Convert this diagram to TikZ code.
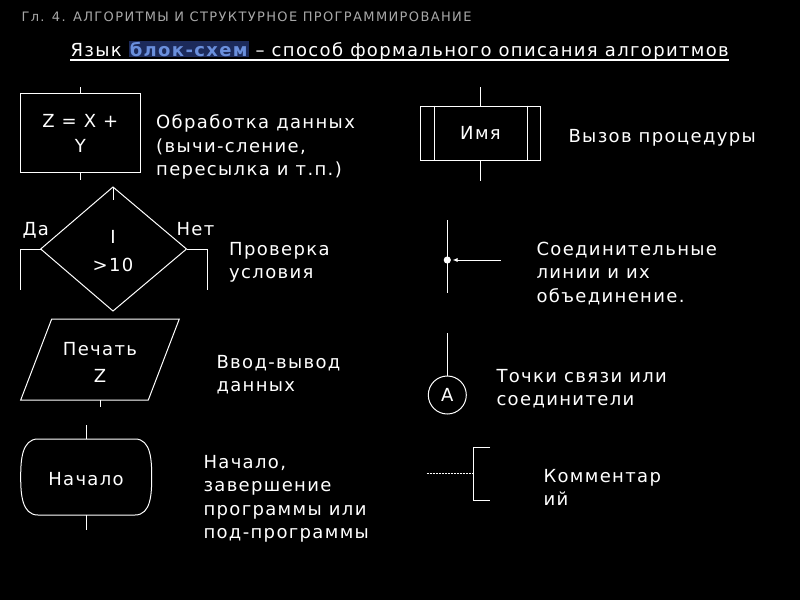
\documentclass[tikz,border=0pt]{standalone}
\usepackage{fontspec}
\setmainfont[LetterSpace=7.5]{DejaVu Sans}
\newfontfamily\hdrfont[LetterSpace=10.5]{DejaVu Sans}
\usetikzlibrary{arrows.meta}
\definecolor{hdrgray}{HTML}{A8A8A8}
\definecolor{titleblue}{HTML}{6A8FDC}
\definecolor{titlebg}{HTML}{1C2A5A}
\begin{document}
\begin{tikzpicture}[x=1pt,y=-1pt, line width=1pt, white,
  lbl/.style={anchor=north west, inner sep=0, align=left, font=\fontsize{18}{23.5}\selectfont, text=white},
  ctr/.style={inner sep=0, align=center, font=\fontsize{18}{25}\selectfont, text=white},
  shp/.style={draw=white, line width=1pt}]
\fill[black] (0,0) rectangle (800,600);
\useasboundingbox (0,0) rectangle (800,600);

% header and title
\node[anchor=west, inner sep=0, text=hdrgray, font=\hdrfont\fontsize{13}{14}\selectfont] (hdr) at (21,17) {Гл. 4. АЛГОРИТМЫ И СТРУКТУРНОЕ ПРОГРАММИРОВАНИЕ};
\node[anchor=base west, inner sep=0, font=\fontsize{18}{22}\selectfont] (title) at (70,56) {Язык {\fboxsep=1pt\colorbox{titlebg}{\color{titleblue}\bfseries блок-схем}} – способ формального описания алгоритмов};
\draw[line width=1.2pt] ([yshift=-4pt]title.base west) -- ([yshift=-4pt]title.base east);

% process
\node[shp, ctr, minimum width=119.6pt, minimum height=79.4pt] (proc) at (80.3,133) {Z = X +\\Y};
\coordinate (procin) at (80.3,87);
\coordinate (procout) at (80.3,180);
\draw (procin) -- (proc.north);
\draw (proc.south) -- (procout);
\node[lbl] (proclbl) at (155.7,114.5) {Обработка данных\\(вычи-сление,\\пересылка и т.п.)};

% decision
\coordinate (dT) at (113,187);
\coordinate (dR) at (186.5,249);
\coordinate (dB) at (113,311);
\coordinate (dL) at (40.7,249);
\coordinate (dTin) at (113,200);
\coordinate (yesEnd) at (20.7,290);
\coordinate (noEnd) at (207,290);
\draw (dT) -- (dR) -- (dB) -- (dL) -- cycle;
\draw (dT) -- (dTin);
\draw (dL) -| (yesEnd);
\draw (dR) -| (noEnd);
\node[ctr, font=\fontsize{18}{28}\selectfont] (cond) at (113,251) {I\\>10};
\node[lbl] (yes) at (22,221.5) {Да};
\node[lbl] (no) at (176,221.5) {Нет};
\node[lbl] (condlbl) at (228.7,241.5) {Проверка\\условия};

% input/output
\coordinate (pTL) at (51.7,319);
\coordinate (pTR) at (179.3,319);
\coordinate (pBR) at (148.3,400);
\coordinate (pBL) at (20.7,400);
\coordinate (pOutA) at (100,400);
\coordinate (pOutB) at (100,407);
\draw (pTL) -- (pTR) -- (pBR) -- (pBL) -- cycle;
\draw (pOutA) -- (pOutB);
\node[ctr, font=\fontsize{18}{27}\selectfont] (print) at (100,362) {Печать\\Z};
\node[lbl] (iolbl) at (216,354.5) {Ввод-вывод\\данных};

% terminal
\coordinate (tTL) at (38,439);
\coordinate (tTR) at (135,439);
\coordinate (tR) at (151.7,477);
\coordinate (tBR) at (135,515);
\coordinate (tBL) at (38,515);
\coordinate (tL) at (20.7,477);
\draw (tTL) -- (tTR) to[out=0,in=90] (tR) to[out=-90,in=0] (tBR) -- (tBL) to[out=180,in=-90] (tL) to[out=90,in=180] (tTL);
\coordinate (tInA) at (86,425);
\coordinate (tInB) at (86,439);
\coordinate (tOutA) at (86,515);
\coordinate (tOutB) at (86,530);
\draw (tInA) -- (tInB);
\draw (tOutA) -- (tOutB);
\node[ctr] (start) at (86,479) {Начало};
\node[lbl] (startlbl) at (203,454.5) {Начало,\\завершение\\программы или\\под-программы};

% procedure call
\node[shp, ctr, minimum width=119.6pt, minimum height=54.3pt] (callp) at (480.5,133.2) {Имя};
\draw ([xshift=14pt]callp.north west) -- ([xshift=14pt]callp.south west);
\draw ([xshift=-13.6pt]callp.north east) -- ([xshift=-13.6pt]callp.south east);
\coordinate (callin) at (480.5,87);
\coordinate (callout) at (480.5,181);
\draw (callin) -- (callp.north);
\draw (callp.south) -- (callout);
\node[lbl] (calllbl) at (568,128.5) {Вызов процедуры};

% connecting lines
\coordinate (jTop) at (447.3,220);
\coordinate (jBot) at (447.3,293);
\coordinate (jMid) at (447.3,260);
\coordinate (jArrEnd) at (452.5,260);
\coordinate (jRight) at (500.7,260);
\draw (jTop) -- (jBot);
\draw[-{Latex[length=5pt,width=4pt]}] (jRight) -- (jArrEnd);
\fill[white] (jMid) circle (3.6pt);
\node[lbl] (joinlbl) at (536,241.5) {Соединительные\\линии и их\\объединение.};

% connector
\node[shp, circle, ctr, minimum size=38pt] (conn) at (447.3,395) {A};
\coordinate (connin) at (447.3,333);
\draw (connin) -- (conn.north);
\node[lbl] (connlbl) at (496,368.5) {Точки связи или\\соединители};

% comment
\coordinate (bTop) at (490,447);
\coordinate (bTopL) at (473.3,447);
\coordinate (bBotL) at (473.3,500.7);
\coordinate (bBot) at (490,500.7);
\coordinate (bMid) at (473.3,473.3);
\coordinate (cStart) at (426.7,473.3);
\draw (bTop) -- (bTopL) -- (bBotL) -- (bBot);
\draw[dash pattern=on 2pt off 1pt, line width=0.8pt] (cStart) -- (bMid);
\node[lbl] (commlbl) at (543,468.5) {Комментар\\ий};
\end{tikzpicture}
\end{document}
